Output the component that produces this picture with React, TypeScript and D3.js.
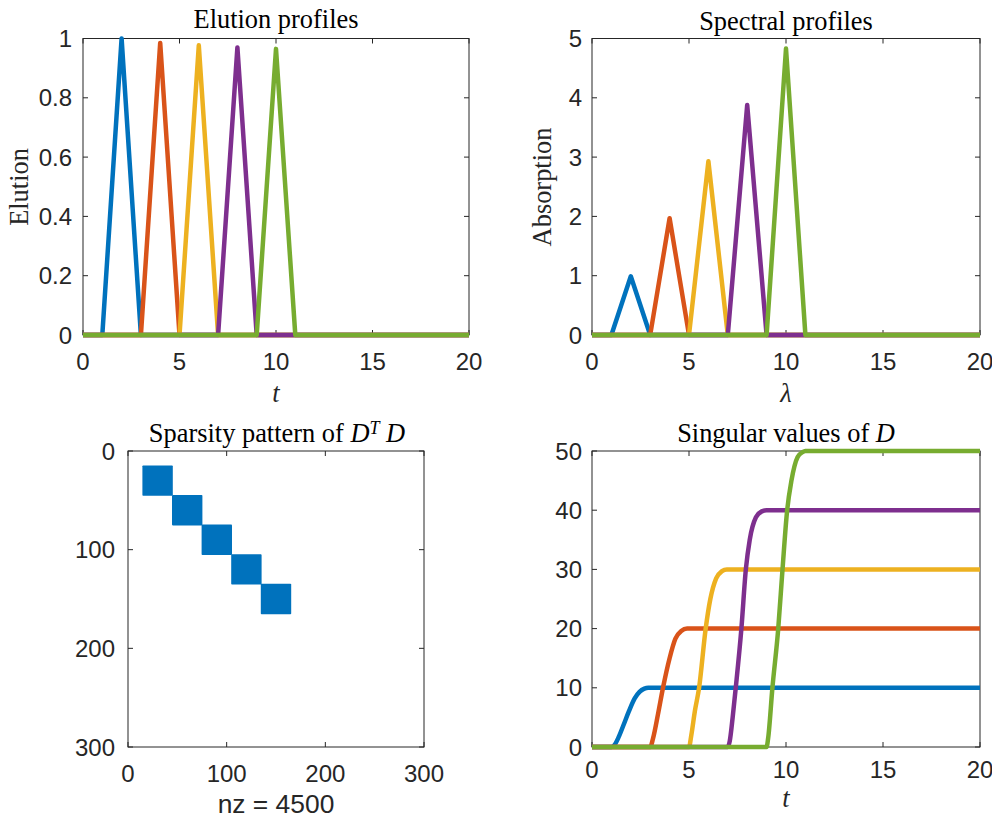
import { useEffect, useRef } from "react";
import * as d3 from "d3";

// MATLAB default colour order
const COLORS = ["#0072BD", "#D95319", "#EDB120", "#7E2F8E", "#77AC30"];

// top row: triangular peaks (t / lambda positions)
const profileT = [
  [0, 1, 2, 3, 20],
  [0, 3, 4, 5, 20],
  [0, 5, 6, 7, 20],
  [0, 7, 8, 9, 20],
  [0, 9, 10, 11, 20],
];
const elutionY = [
  [0, 0, 1.0, 0, 0],
  [0, 0, 0.985, 0, 0],
  [0, 0, 0.977, 0, 0],
  [0, 0, 0.97, 0, 0],
  [0, 0, 0.965, 0, 0],
];
const absorptionY = [
  [0, 0, 0.99, 0, 0],
  [0, 0, 1.97, 0, 0],
  [0, 0, 2.93, 0, 0],
  [0, 0, 3.88, 0, 0],
  [0, 0, 4.83, 0, 0],
];

// bottom right: singular values vs t
const svT = [
  [0, 1.0, 1.15, 1.35, 1.6, 1.9, 2.2, 2.45, 2.7, 2.9, 20],
  [0, 3.0, 3.15, 3.4, 3.66, 4.0, 4.3, 4.6, 4.9, 20],
  [0, 5.0, 5.12, 5.3, 5.52, 5.86, 6.1, 6.4, 6.7, 6.95, 20],
  [0, 7.0, 7.1, 7.25, 7.41, 7.7, 7.93, 8.13, 8.45, 8.75, 9.0, 20],
  [0, 9.0, 9.08, 9.3, 9.6, 9.82, 10.06, 10.28, 10.6, 10.85, 11.0, 20],
];
const svY = [
  [0, 0, 0.3, 1.5, 3.5, 6, 8.2, 9.3, 9.85, 10, 10],
  [0, 0, 1.5, 5.5, 10, 15, 18.3, 19.6, 20, 20],
  [0, 0, 2, 6, 10, 20, 25, 28.5, 29.7, 30, 30],
  [0, 0, 1, 5, 10, 20, 30, 35, 38.8, 39.8, 40, 40],
  [0, 0, 1.5, 10, 20, 30, 40, 45, 49, 49.8, 50, 50],
];

// bottom left: sparsity blocks of D^T D
const spyBlockStart = [15, 45, 75, 105, 135];
const spyBlockSize = 30;

const tTicks = [0, 5, 10, 15, 20];
const elutionTicks = [0, 0.2, 0.4, 0.6, 0.8, 1];
const absorptionTicks = [0, 1, 2, 3, 4, 5];
const spyTicks = [0, 100, 200, 300];
const svTicks = [0, 10, 20, 30, 40, 50];

const W = 992;
const H = 822;
const SANS = "Liberation Sans, Arial, sans-serif";
const SERIF = "Liberation Serif, Times New Roman, serif";
const AX = "#262626";
const TICK_FS = 24;
const LABEL_FS = 26.4;
const LW = 4.5;

export default function App() {
  const svgRef = useRef(null);

  useEffect(() => {
    const el = svgRef.current;
    if (!el) return;
    const root = d3.select(el);
    root.selectAll("*").remove();

    root
      .append("rect")
      .attr("width", W)
      .attr("height", H)
      .attr("fill", "#fff");

    // draws box, inward ticks on all four sides, tick labels
    const frame = (xs, ys, xt, yt, opt) => {
      const g = root.append("g");
      const [x0, x1] = xs.range();
      const yr = ys.range();
      const yTop = Math.min(...yr);
      const yBot = Math.max(...yr);
      const tl = 5;
      xt.forEach((v) => {
        const x = xs(v);
        g.append("line")
          .attr("x1", x).attr("x2", x)
          .attr("y1", yBot).attr("y2", yBot - tl)
          .attr("stroke", AX);
        g.append("line")
          .attr("x1", x).attr("x2", x)
          .attr("y1", yTop).attr("y2", yTop + tl)
          .attr("stroke", AX);
        g.append("text")
          .attr("x", x)
          .attr("y", yBot + opt.xLabOff)
          .attr("text-anchor", "middle")
          .attr("fill", AX)
          .style("font-family", SANS)
          .style("font-size", TICK_FS + "px")
          .text(String(v));
      });
      yt.forEach((v) => {
        const y = ys(v);
        g.append("line")
          .attr("x1", x0).attr("x2", x0 + tl)
          .attr("y1", y).attr("y2", y)
          .attr("stroke", AX);
        g.append("line")
          .attr("x1", x1).attr("x2", x1 - tl)
          .attr("y1", y).attr("y2", y)
          .attr("stroke", AX);
        g.append("text")
          .attr("x", x0 - opt.yLabGap)
          .attr("y", y)
          .attr("dy", "0.36em")
          .attr("text-anchor", "end")
          .attr("fill", AX)
          .style("font-family", SANS)
          .style("font-size", TICK_FS + "px")
          .text(String(v));
      });
      g.append("rect")
        .attr("x", x0)
        .attr("y", yTop)
        .attr("width", x1 - x0)
        .attr("height", yBot - yTop)
        .attr("fill", "none")
        .attr("stroke", AX)
        .attr("stroke-width", 1);
      return g;
    };

    const title = (cx, y, parts) => {
      const t = root
        .append("text")
        .attr("x", cx)
        .attr("y", y)
        .attr("text-anchor", "middle")
        .attr("fill", "#000")
        .style("font-family", SERIF)
        .style("font-size", LABEL_FS + "px");
      parts.forEach((pt) => {
        const s = t.append("tspan").text(pt.s);
        if (pt.it) s.style("font-style", "italic");
        if (pt.sup) s.attr("dy", "-0.45em").style("font-size", "18px");
        if (pt.down) s.attr("dy", "0.3em");
      });
      return t;
    };

    const xLabel = (cx, y, txt, font, italic) =>
      root
        .append("text")
        .attr("x", cx)
        .attr("y", y)
        .attr("text-anchor", "middle")
        .attr("fill", AX)
        .style("font-family", font)
        .style("font-style", italic ? "italic" : "normal")
        .style("font-size", LABEL_FS + "px")
        .text(txt);

    const yLabel = (x, cy, txt) =>
      root
        .append("text")
        .attr("transform", `translate(${x},${cy}) rotate(-90)`)
        .attr("text-anchor", "middle")
        .attr("fill", AX)
        .style("font-family", SERIF)
        .style("font-size", LABEL_FS + "px")
        .text(txt);

    const drawLines = (xs, ys, T, Y, curve) => {
      const line = d3
        .line()
        .x((d) => xs(d[0]))
        .y((d) => ys(d[1]))
        .curve(curve);
      T.forEach((ts, i) => {
        const pts = ts.map((t, j) => [t, Y[i][j]]);
        root
          .append("path")
          .datum(pts)
          .attr("fill", "none")
          .attr("stroke", COLORS[i])
          .attr("stroke-width", LW)
          .attr("stroke-linejoin", "round")
          .attr("d", line);
      });
    };

    // Elution profiles
    {
      const xs = d3.scaleLinear().domain([0, 20]).range([83, 469]);
      const ys = d3.scaleLinear().domain([0, 1]).range([335, 38.5]);
      frame(xs, ys, tTicks, elutionTicks, { xLabOff: 35, yLabGap: 11 });
      drawLines(xs, ys, profileT, elutionY, d3.curveLinear);
      title(276, 28, [{ s: "Elution profiles" }]);
      xLabel(276, 402, "t", SERIF, true);
      yLabel(28, 187, "Elution");
    }

    // Spectral profiles
    {
      const xs = d3.scaleLinear().domain([0, 20]).range([592, 980]);
      const ys = d3.scaleLinear().domain([0, 5]).range([335, 38.5]);
      frame(xs, ys, tTicks, absorptionTicks, { xLabOff: 35, yLabGap: 10 });
      drawLines(xs, ys, profileT, absorptionY, d3.curveLinear);
      title(786, 30, [{ s: "Spectral profiles" }]);
      xLabel(786, 402, "λ", SERIF, true);
      yLabel(551, 187, "Absorption");
    }

    // Sparsity pattern
    {
      const xs = d3.scaleLinear().domain([0, 300]).range([128, 424]);
      const ys = d3.scaleLinear().domain([0, 300]).range([451, 747]);
      const pad = 0.4;
      spyBlockStart.forEach((s) => {
        root
          .append("rect")
          .attr("x", xs(s) - pad)
          .attr("y", ys(s) - pad)
          .attr("width", xs(s + spyBlockSize) - xs(s) + 2 * pad)
          .attr("height", ys(s + spyBlockSize) - ys(s) + 2 * pad)
          .attr("rx", 0.8)
          .attr("fill", COLORS[0]);
      });
      frame(xs, ys, spyTicks, spyTicks, { xLabOff: 35, yLabGap: 13 });
      title(277, 442, [
        { s: "Sparsity pattern of " },
        { s: "D", it: true },
        { s: "T", it: true, sup: true },
        { s: " D", it: true, down: true },
      ]);
      xLabel(276, 813, "nz = 4500", SANS, false);
    }

    // Singular values
    {
      const xs = d3.scaleLinear().domain([0, 20]).range([592, 980]);
      const ys = d3.scaleLinear().domain([0, 50]).range([747, 451]);
      frame(xs, ys, tTicks, svTicks, { xLabOff: 31, yLabGap: 10 });
      drawLines(xs, ys, svT, svY, d3.curveMonotoneX);
      title(786, 442, [
        { s: "Singular values of " },
        { s: "D", it: true },
      ]);
      xLabel(786, 807, "t", SERIF, true);
    }
  }, []);

  return (
    <svg
      ref={svgRef}
      width={W}
      height={H}
      style={{ position: "absolute", left: 0, top: 0, display: "block" }}
    />
  );
}
